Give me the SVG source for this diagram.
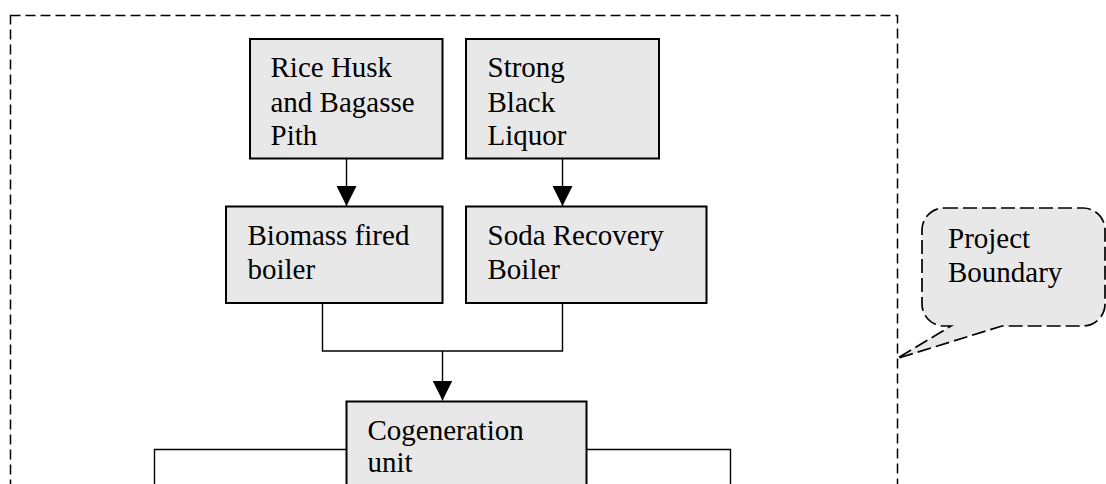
<svg xmlns="http://www.w3.org/2000/svg" width="1106" height="484" viewBox="0 0 1106 484">
  <style>
    .box { fill: #e8e8e8; stroke: #000; stroke-width: 2; }
    .lbl { font-family: "Liberation Serif", "Times New Roman", serif; font-size: 29px; fill: #000; }
    .conn { fill: none; stroke: #000; stroke-width: 1.4; }
    .dash { stroke: #000; stroke-width: 1.5; stroke-dasharray: 10 5; }
    .cdash { stroke: #000; stroke-width: 1.7; stroke-dasharray: 14 5; }
  </style>
  <defs>
    <marker id="arrow" markerUnits="userSpaceOnUse" markerWidth="20" markerHeight="20" refX="20" refY="10" orient="auto">
      <path d="M0,0 L20,10 L0,20 Z" fill="#000"/>
    </marker>
  </defs>
  <rect width="1106" height="484" fill="#fff"/>

  <g id="boundary">
    <rect class="dash" x="10.5" y="15.5" width="887" height="520" fill="none"/>
  </g>

  <g id="connectors">
    <line class="conn" x1="346.5" y1="159" x2="346.5" y2="206" marker-end="url(#arrow)"/>
    <line class="conn" x1="562.5" y1="159" x2="562.5" y2="206" marker-end="url(#arrow)"/>
    <polyline class="conn" points="322.5,304 322.5,351 562.5,351 562.5,304"/>
    <line class="conn" x1="442.5" y1="351" x2="442.5" y2="400.5" marker-end="url(#arrow)"/>
    <polyline class="conn" points="346.5,449.5 154.5,449.5 154.5,490"/>
    <polyline class="conn" points="586.5,449.5 730.5,449.5 730.5,490"/>
  </g>

  <g id="rice-husk">
    <rect class="box" x="250" y="39" width="192.5" height="119.5"/>
    <text class="lbl" x="270.5" y="77">Rice Husk</text>
    <text class="lbl" x="270.5" y="111.5">and Bagasse</text>
    <text class="lbl" x="270.5" y="145">Pith</text>
  </g>

  <g id="black-liquor">
    <rect class="box" x="466" y="39" width="193" height="119.5"/>
    <text class="lbl" x="487.5" y="77">Strong</text>
    <text class="lbl" x="487.5" y="111.5">Black</text>
    <text class="lbl" x="487.5" y="145">Liquor</text>
  </g>

  <g id="biomass-boiler">
    <rect class="box" x="226" y="206.5" width="216.5" height="96.5"/>
    <text class="lbl" x="247.5" y="245">Biomass fired</text>
    <text class="lbl" x="247.5" y="278.5">boiler</text>
  </g>

  <g id="soda-boiler">
    <rect class="box" x="466" y="206.5" width="240.5" height="96.5"/>
    <text class="lbl" x="487.5" y="245">Soda Recovery</text>
    <text class="lbl" x="487.5" y="278.5">Boiler</text>
  </g>

  <g id="cogeneration">
    <rect class="box" x="346.5" y="401.5" width="240" height="120"/>
    <text class="lbl" x="367.5" y="439.5">Cogeneration</text>
    <text class="lbl" x="367.5" y="472">unit</text>
  </g>

  <g id="callout">
    <path class="cdash" fill="#e8e8e8" d="M944,208 H1083 A22,22 0 0 1 1105,230 V304 A22,22 0 0 1 1083,326 H1002 L897,358.5 L951,326 H944 A22,22 0 0 1 922,304 V230 A22,22 0 0 1 944,208 Z"/>
    <text class="lbl" x="948" y="248">Project</text>
    <text class="lbl" x="948" y="282">Boundary</text>
  </g>
</svg>
